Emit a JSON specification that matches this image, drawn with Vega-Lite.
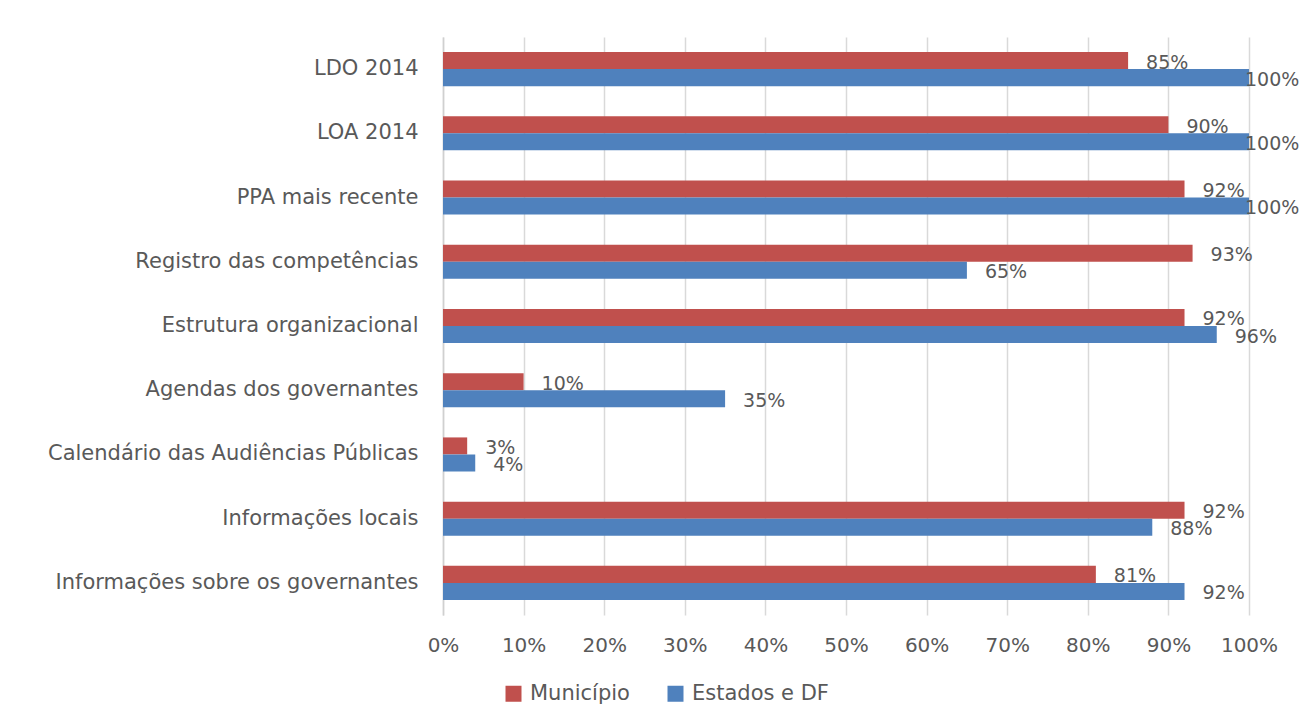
{
  "$schema": "https://vega.github.io/schema/vega-lite/v6.json",
  "autosize": "none",
  "padding": {"left": 443, "top": 37, "right": 54, "bottom": 112},
  "width": 806,
  "height": 578,
  "background": "white",
  "config": {
    "view": {"stroke": null},
    "font": "DejaVu Sans"
  },
  "data": {
    "values": [
      {"item": "LDO 2014", "serie": "Município", "v": 0.85},
      {"item": "LDO 2014", "serie": "Estados e DF", "v": 1.00},
      {"item": "LOA 2014", "serie": "Município", "v": 0.90},
      {"item": "LOA 2014", "serie": "Estados e DF", "v": 1.00},
      {"item": "PPA mais recente", "serie": "Município", "v": 0.92},
      {"item": "PPA mais recente", "serie": "Estados e DF", "v": 1.00},
      {"item": "Registro das competências", "serie": "Município", "v": 0.93},
      {"item": "Registro das competências", "serie": "Estados e DF", "v": 0.65},
      {"item": "Estrutura organizacional", "serie": "Município", "v": 0.92},
      {"item": "Estrutura organizacional", "serie": "Estados e DF", "v": 0.96},
      {"item": "Agendas dos governantes", "serie": "Município", "v": 0.10},
      {"item": "Agendas dos governantes", "serie": "Estados e DF", "v": 0.35},
      {"item": "Calendário das Audiências Públicas", "serie": "Município", "v": 0.03},
      {"item": "Calendário das Audiências Públicas", "serie": "Estados e DF", "v": 0.04},
      {"item": "Informações locais", "serie": "Município", "v": 0.92},
      {"item": "Informações locais", "serie": "Estados e DF", "v": 0.88},
      {"item": "Informações sobre os governantes", "serie": "Município", "v": 0.81},
      {"item": "Informações sobre os governantes", "serie": "Estados e DF", "v": 0.92}
    ]
  },
  "encoding": {
    "y": {
      "field": "item",
      "type": "nominal",
      "sort": null,
      "title": null,
      "scale": {"paddingInner": 0.47, "paddingOuter": 0.235},
      "axis": {
        "ticks": false,
        "labelPadding": 25,
        "labelFontSize": 21,
        "labelColor": "#595959",
        "labelLimit": 500,
        "domainColor": "#D0D0D0",
        "domainWidth": 1.5
      }
    },
    "yOffset": {
      "field": "serie",
      "type": "nominal",
      "sort": ["Município", "Estados e DF"]
    },
    "x": {
      "field": "v",
      "type": "quantitative",
      "title": null,
      "scale": {"domain": [0, 1], "nice": false},
      "axis": {
        "format": ".0%",
        "values": [0, 0.1, 0.2, 0.3, 0.4, 0.5, 0.6, 0.7, 0.8, 0.9, 1.0],
        "ticks": false,
        "domain": false,
        "grid": true,
        "gridColor": "#D9D9D9",
        "gridWidth": 1.5,
        "labelPadding": 20,
        "labelFontSize": 20,
        "labelColor": "#595959",
        "labelFlush": false
      }
    }
  },
  "layer": [
    {
      "mark": {"type": "bar"},
      "encoding": {
        "color": {
          "field": "serie",
          "type": "nominal",
          "sort": ["Município", "Estados e DF"],
          "scale": {"domain": ["Município", "Estados e DF"], "range": ["#C0504D", "#4F81BD"]},
          "legend": {
            "title": null,
            "orient": "none",
            "direction": "horizontal",
            "legendX": 60,
            "legendY": 646,
            "symbolType": "square",
            "symbolSize": 256,
            "symbolStrokeWidth": 0,
            "labelFontSize": 21,
            "labelColor": "#595959",
            "labelOffset": 6,
            "columnPadding": 35
          }
        }
      }
    },
    {
      "transform": [{"filter": "datum.v < 1"}],
      "mark": {"type": "text", "align": "left", "baseline": "middle", "dx": 18, "dy": 2, "fontSize": 19, "color": "#595959"},
      "encoding": {"text": {"field": "v", "type": "quantitative", "format": ".0%"}}
    },
    {
      "transform": [{"filter": "datum.v >= 1"}],
      "mark": {"type": "text", "align": "left", "baseline": "middle", "dx": -4, "dy": 2, "fontSize": 19, "color": "#595959"},
      "encoding": {"text": {"field": "v", "type": "quantitative", "format": ".0%"}}
    }
  ]
}
